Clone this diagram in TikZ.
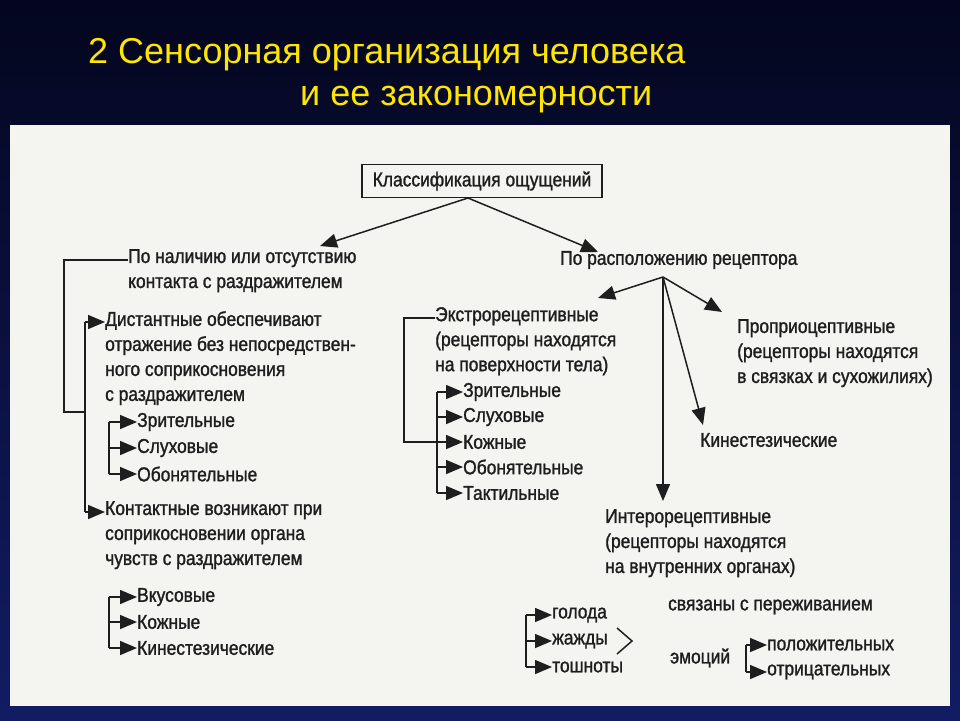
\documentclass[tikz,border=0pt]{standalone}
\usepackage{fontspec}
\setmainfont{Liberation Sans}
\newfontfamily\lbfont[FakeStretch=0.87,FakeBold=1.3]{Liberation Sans}
\usetikzlibrary{arrows.meta}
\definecolor{ink}{RGB}{30,30,30}
\definecolor{navytop}{RGB}{4,6,30}
\definecolor{navybot}{RGB}{18,28,100}
\definecolor{paper}{RGB}{244,244,241}
\definecolor{titleyel}{RGB}{255,230,0}
\begin{document}
\begin{tikzpicture}[x=1pt,y=-1pt,
    >={Triangle[length=17pt,width=14pt]},
    line/.style={draw=ink,line width=1.5pt},
    arr/.style={line,->},
    one/.style={inner sep=0pt,anchor=west,text=ink,font=\lbfont\fontsize{20}{25}\selectfont},
    many/.style={one,anchor=north west,align=left}]

        % background and title
        \fill[top color=navytop,bottom color=navybot] (0,0) rectangle (960,720);
        \fill[paper] (10,125) rectangle (950,706);
        \useasboundingbox (0,0) rectangle (960,720);
        \node[titleyel,font=\fontsize{36}{40}\selectfont,anchor=west,inner sep=0pt] (t1) at (88,55) {2 Сенсорная организация человека};
        \node[titleyel,font=\fontsize{36}{40}\selectfont,anchor=west,inner sep=0pt] (t2) at (300,100) {и ее закономерности};

        % top
        \node[one,anchor=center,draw=ink,line width=1.5pt,minimum width=240pt,minimum height=33pt] (klass) at (482,181) {Классификация ощущений};
        \node[many] (nal) at (128,249) {По наличию или отсутствию\\контакта с раздражителем};
        \node[one] (rasp) at (560,260) {По расположению рецептора};
        \coordinate (k0) at (468,198);
        \coordinate (naltip) at (320,246);
        \coordinate (rasptip) at (598,252);
        \draw[arr] (k0) -- (naltip);
        \draw[arr] (k0) -- (rasptip);

        % left branch
        \node[many] (dist) at (105,311) {Дистантные обеспечивают\\отражение без непосредствен-\\ного соприкосновения\\с раздражителем};
        \node[one] (d1) at (137,422) {Зрительные};
        \node[one] (d2) at (137,448) {Слуховые};
        \node[one] (d3) at (137,474) {Обонятельные};
        \node[many] (kont) at (105,501) {Контактные возникают при\\соприкосновении органа\\чувств с раздражителем};
        \node[one] (c1) at (137,597) {Вкусовые};
        \node[one] (c2) at (137,622) {Кожные};
        \node[one] (c3) at (137,648) {Кинестезические};

        \draw[line] ([yshift=-11pt]nal.north west) -- ++(-64,0) |- (85,412);
        \draw[line] (85,322) -- (85,512);
        \draw[arr] (85,322) -- ([yshift=-11pt]dist.north west);
        \draw[arr] (85,512) -- ([yshift=-11pt]kont.north west);
        \draw[line] (109,422) -- (109,474);
        \foreach \n in {d1,d2,d3,c1,c2,c3}
          \draw[arr] (\n.west -| 109,0) -- (\n.west);
        \draw[line] (109,597) -- (109,648);

        % right branch
        \node[many] (ekst) at (435,307) {Экстрорецептивные\\(рецепторы находятся\\на поверхности тела)};
        \node[one] (e1) at (463,392) {Зрительные};
        \node[one] (e2) at (463,417) {Слуховые};
        \node[one] (e3) at (463,442) {Кожные};
        \node[one] (e4) at (463,467) {Обонятельные};
        \node[one] (e5) at (463,493) {Тактильные};
        \draw[line] ([yshift=-11pt]ekst.north west) -- ++(-31,0) -- (404,442) -- (437,442);
        \draw[line] (437,392) -- (437,493);
        \foreach \n in {e1,e2,e3,e4,e5}
          \draw[arr] (\n.west -| 437,0) -- (\n.west);

        \node[many] (prop) at (737,319) {Проприоцептивные\\(рецепторы находятся\\в связках и сухожилиях)};
        \node[one] (kin) at (700,440) {Кинестезические};
        \node[many] (inter) at (605,509) {Интерорецептивные\\(рецепторы находятся\\на внутренних органах)};
        \coordinate (r0) at (663,277);
        \draw[arr] (r0) -- (598,298);
        \draw[arr] (r0) -- (722,312);
        \draw[arr] (r0) -- (703,425);
        \draw[arr] (r0) -- (663,501);

        % bottom right
        \node[one] (g1) at (552,615) {голода};
        \node[one] (g2) at (552,641) {жажды};
        \node[one] (g3) at (552,667) {тошноты};
        \draw[line] (526,615) -- (526,667);
        \foreach \n in {g1,g2,g3}
          \draw[arr] (\n.west -| 526,0) -- (\n.west);
        \draw[line] (617,628) -- (632,641) -- (617,654);
        \node[one] (svyaz) at (668,607) {связаны с переживанием};
        \node[one] (emo) at (670,658) {эмоций};
        \node[one] (pol) at (767,645) {положительных};
        \node[one] (otr) at (767,672) {отрицательных};
        \draw[line] (746,645) -- (746,672);
        \foreach \n in {pol,otr}
          \draw[arr] (\n.west -| 746,0) -- (\n.west);

      \end{tikzpicture}
\end{document}
